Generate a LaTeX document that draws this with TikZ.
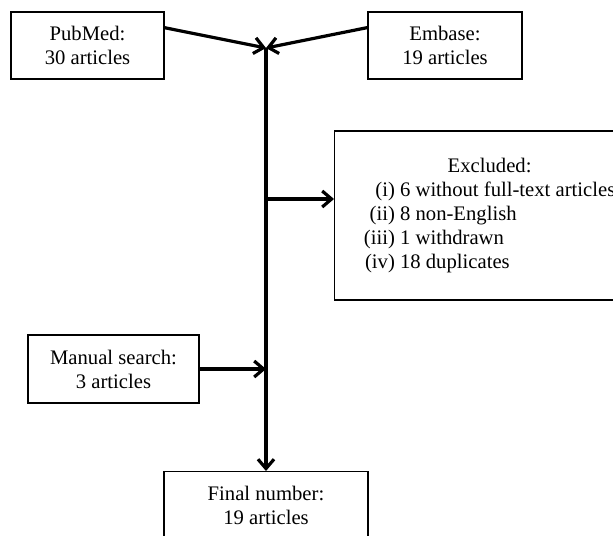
\documentclass[tikz,border=0pt]{standalone}
\usepackage{fontspec}
\setmainfont{Liberation Serif}
\usetikzlibrary{arrows.meta}

\begin{document}
\begin{tikzpicture}[x=0.75pt,y=-0.75pt,
        box/.style={draw,line width=0.9pt,align=center,inner sep=0pt,
            font=\fontsize{15.5}{18}\selectfont},
        flow/.style={line width=2.4pt,-{Straight Barb[length=7pt,width=12pt]}}]
        \clip (0,0) rectangle (613,535);

        % 汇合点与分支点
        \coordinate (join) at (266,48);
        \coordinate (exbranch) at (266,199);
        \coordinate (manjoin) at (266,369);

        % 检索来源
        \node[box,minimum width=114.75pt,minimum height=50.25pt] (pubmed) at (87.5,45.5) {PubMed:\\30 articles};
        \node[box,minimum width=115.5pt,minimum height=50.25pt] (embase) at (445,45.5) {Embase:\\19 articles};

        % 排除的文章
        \node[box,anchor=west,inner xsep=22pt,minimum height=126.75pt] (excl) at (334,215.5) {%
            \begin{tabular}{@{}r@{\ }l@{}}
                \multicolumn{2}{c}{Excluded:\hspace{12pt}}\\
                (i) & 6 without full-text articles\\
                (ii) & 8 non-English\\
                (iii) & 1 withdrawn\\
                (iv) & 18 duplicates
            \end{tabular}};

        % 手工检索与最终结果
        \node[box,minimum width=128.25pt,minimum height=51pt] (manual) at (113.5,369) {Manual search:\\3 articles};
        \node[box,anchor=north,minimum width=153pt,minimum height=51pt] (final) at (266,471) {Final number:\\19 articles};

        % 箭头
        \draw[flow] (pubmed.13) -- (join);
        \draw[flow] (embase.167) -- (join);
        \draw[flow] (join) -- (final.north);
        \draw[flow] (exbranch) -- (exbranch -| excl.west);
        \draw[flow] (manual.east) -- (manjoin);
    \end{tikzpicture}
\end{document}
